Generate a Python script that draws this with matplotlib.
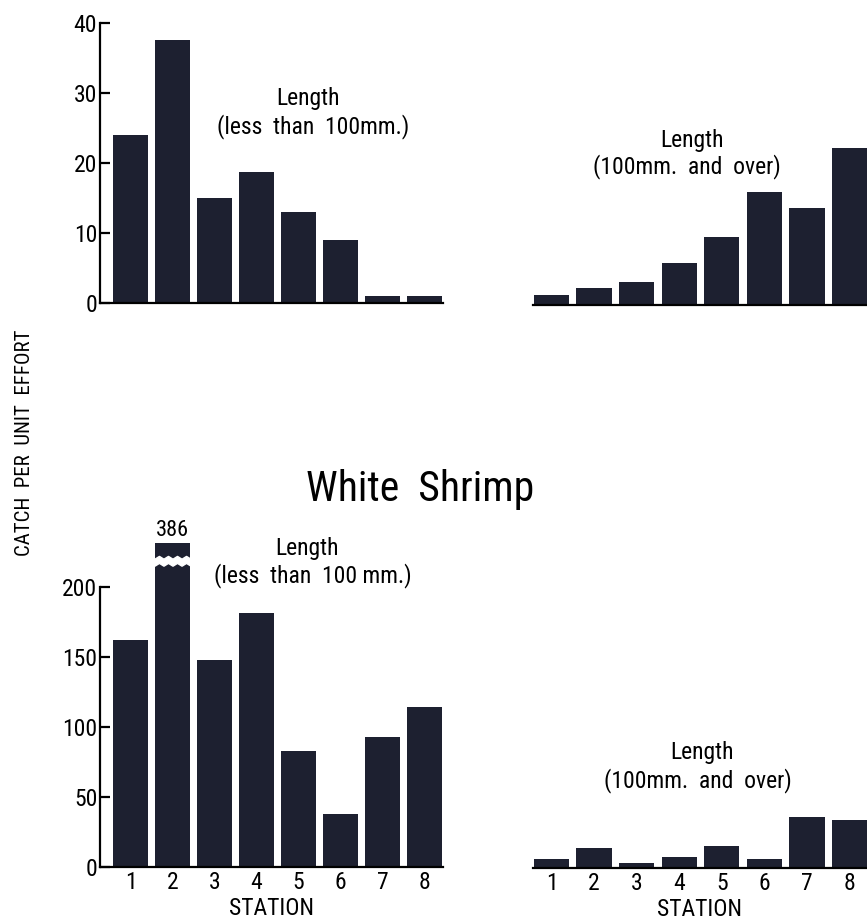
import numpy as np
import matplotlib
matplotlib.use("Agg")
import matplotlib.pyplot as plt

plt.rcParams['font.family'] = ['Roboto Condensed', 'Archivo Narrow', 'PT Sans Narrow',
                               'Liberation Sans Narrow', 'DejaVu Sans']

stations = [1, 2, 3, 4, 5, 6, 7, 8]
# upper species (panel title not in picture)
top_small = [24, 37.5, 15, 18.7, 13, 9, 1, 1]
top_large = [1.5, 2.4, 3.3, 6, 9.7, 16.1, 13.8, 22.4]
# white shrimp
white_small = [162, 386, 148, 181, 83, 38, 93, 114]
white_large = [6, 14, 3.5, 7.5, 15.5, 6, 36, 34]

bar_col = '#1d2030'
W, H = 867, 923

def box(l, b, r, t):
    return [l / W, 1 - b / H, (r - l) / W, (b - t) / H]

def ftext(x, y, s, **kw):
    fig.text(x / W, 1 - y / H, s, ha='center', va='center', **kw)

fig = plt.figure(figsize=(W / 100, H / 100), dpi=100)

ax1 = fig.add_axes(box(100, 302.7, 443, 22.7))
ax2 = fig.add_axes(box(533, 305, 867, 25))
ax3 = fig.add_axes(box(100, 866.7, 443, 586.7))
ax4 = fig.add_axes(box(533, 867.7, 867, 587.7))

cut = 231  # where the tall bar is broken
for ax, vals, ymax in [(ax1, top_small, 40), (ax2, top_large, 40),
                       (ax3, white_small, 200), (ax4, white_large, 200)]:
    drawn = [min(v, cut) for v in vals]
    ax.bar(stations, drawn, width=0.83, color=bar_col, clip_on=False, zorder=2)
    ax.set_ylim(0, ymax)
    ax.spines['top'].set_visible(False)
    ax.spines['right'].set_visible(False)
    ax.spines['bottom'].set_linewidth(1.6)
    ax.spines['left'].set_linewidth(1.6)
    ax.set_facecolor('none')

ax1.set_xlim(1 - 30.5 / 42, 8 + 18.5 / 42)
ax3.set_xlim(1 - 30.5 / 42, 8 + 18.5 / 42)
ax2.set_xlim(1 - 18.5 / 42.5, 8 + 17.5 / 42.5)
ax4.set_xlim(1 - 18.5 / 42.5, 8 + 17.5 / 42.5)

ax1.set_yticks([0, 10, 20, 30, 40])
ax3.set_yticks([0, 50, 100, 150, 200])
for ax in (ax1, ax3):
    ax.tick_params(axis='y', direction='in', length=7, width=1.6, labelsize=17, pad=2)
for ax in (ax2, ax4):
    ax.spines['left'].set_visible(False)
    ax.set_yticks([])
for ax in (ax1, ax2):
    ax.set_xticks([])
for ax in (ax3, ax4):
    ax.set_xticks(stations)
    ax.tick_params(axis='x', length=0, labelsize=17, pad=3)
    ax.set_xlabel('STATION', fontsize=17, labelpad=2)

# break marks on the tall white shrimp bar
xs = 2 + np.linspace(-0.43, 0.43, 9)
wig = np.array([0, 2, 0, 2, 0, 2, 0, 2, 0])
ax3.fill_between(xs, 215 + wig, 220 + wig, color='white', clip_on=False, zorder=3)
ax3.text(2, 233, str(white_small[1]), ha='center', va='bottom', fontsize=16, clip_on=False)

ftext(308, 98, 'Length', fontsize=17)
ftext(313, 127, '(less  than  100mm.)', fontsize=17)
ftext(692, 141, 'Length', fontsize=17)
ftext(687, 167, '(100mm.  and  over)', fontsize=17)
ftext(420, 489, 'White  Shrimp', fontsize=30)
ftext(307, 549, 'Length', fontsize=17)
ftext(313, 576, '(less  than  100 mm.)', fontsize=17)
ftext(702, 752, 'Length', fontsize=17)
ftext(698, 781, '(100mm.  and  over)', fontsize=17)
ftext(25, 443, 'CATCH  PER  UNIT  EFFORT', fontsize=15, rotation=90)

fig.savefig('out.png', dpi=100)
